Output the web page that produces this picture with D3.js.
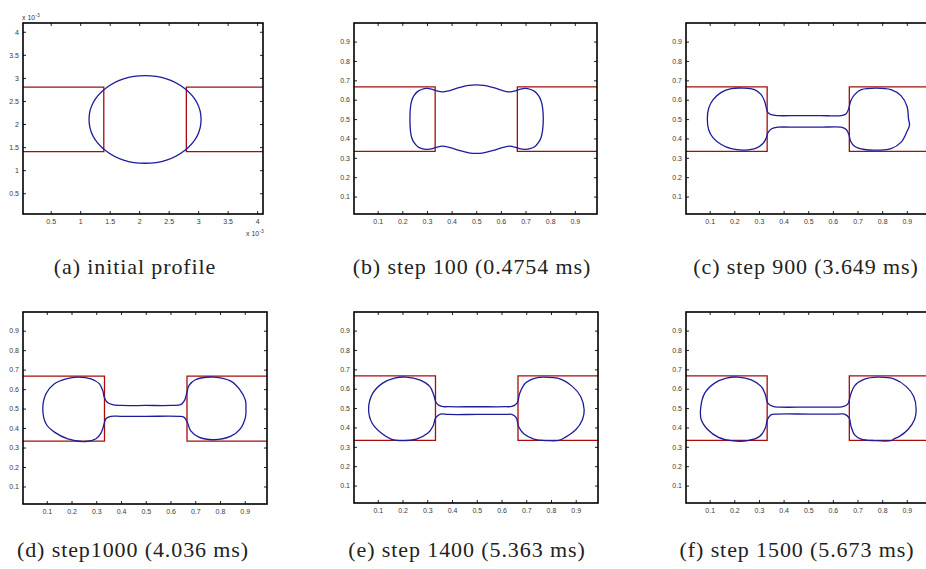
<!DOCTYPE html>
<html><head><meta charset="utf-8">
<script src="https://cdn.jsdelivr.net/npm/d3@7"></script>
<style>body{margin:0;background:#fff}svg{display:block}</style>
</head><body>
<svg id="c" width="926" height="569"></svg>
<script>
// ---------------- data ----------------
const captions = ["(a) initial profile", "(b) step 100 (0.4754 ms)", "(c) step 900 (3.649 ms)",
                  "(d) step1000 (4.036 ms)", "(e) step 1400 (5.363 ms)", "(f) step 1500 (5.673 ms)"];
const unitTicks = [0.1, 0.2, 0.3, 0.4, 0.5, 0.6, 0.7, 0.8, 0.9];
const unitTickLabels = ["0.1","0.2","0.3","0.4","0.5","0.6","0.7","0.8","0.9"];
const initTicks = [0.5, 1, 1.5, 2, 2.5, 3, 3.5, 4];           // x 10^-3
const initTickLabels = ["0.5","1","1.5","2","2.5","3","3.5","4"];
const initialDrop = {cx: 2.1, cy: 2.1, r: 0.95};                // x 10^-3
const channelInitLeft  = [[0, 2.8], [1.4, 2.8], [1.4, 1.4], [0, 1.4]];
const channelInitRight = [[4.2, 2.8], [2.8, 2.8], [2.8, 1.4], [4.2, 1.4]];
const channelLeft  = [[0, 0.6667], [0.3333, 0.6667], [0.3333, 0.3333], [0, 0.3333]];
const channelRight = [[1, 0.6667], [0.6667, 0.6667], [0.6667, 0.3333], [1, 0.3333]];

const profileB = [[0.231,0.50],[0.233,0.56],[0.238,0.595],[0.248,0.622],[0.263,0.643],[0.28,0.654],[0.299,0.658],
 [0.318,0.655],[0.338,0.646],[0.362,0.640],[0.39,0.646],[0.43,0.662],[0.47,0.674],[0.50,0.677],[0.53,0.674],
 [0.57,0.662],[0.61,0.646],[0.636,0.640],[0.66,0.646],[0.68,0.655],[0.699,0.658],[0.718,0.654],[0.737,0.643],
 [0.752,0.622],[0.763,0.595],[0.769,0.56],[0.772,0.50],[0.769,0.44],[0.763,0.405],[0.752,0.378],[0.737,0.357],
 [0.718,0.347],[0.699,0.344],[0.68,0.346],[0.66,0.354],[0.636,0.360],[0.61,0.354],[0.57,0.338],[0.53,0.326],
 [0.50,0.323],[0.47,0.326],[0.43,0.338],[0.39,0.354],[0.362,0.360],[0.338,0.354],[0.318,0.346],[0.299,0.344],
 [0.28,0.347],[0.263,0.357],[0.248,0.378],[0.238,0.405],[0.233,0.44]];

const profileC = [[0.0905,0.50],[0.096,0.556],[0.114,0.600],[0.147,0.638],[0.188,0.657],[0.235,0.660],[0.282,0.652],
 [0.309,0.626],[0.323,0.592],[0.330,0.557],[0.336,0.535],[0.35,0.523],[0.377,0.518],[0.45,0.518],[0.5,0.518],
 [0.55,0.518],[0.634,0.518],[0.654,0.528],[0.665,0.557],[0.672,0.592],[0.688,0.626],[0.715,0.652],[0.776,0.660],
 [0.836,0.652],[0.877,0.620],[0.901,0.565],[0.907,0.50],[0.911,0.469],[0.901,0.437],[0.877,0.381],[0.836,0.347],
 [0.782,0.340],[0.728,0.343],[0.688,0.360],[0.672,0.386],[0.665,0.420],[0.654,0.446],[0.634,0.458],[0.55,0.458],
 [0.5,0.458],[0.45,0.458],[0.377,0.458],[0.35,0.449],[0.336,0.429],[0.330,0.403],[0.316,0.374],[0.289,0.350],
 [0.242,0.340],[0.188,0.347],[0.147,0.369],[0.114,0.403],[0.096,0.445]];

const profileD = [[0.084,0.499],[0.097,0.576],[0.131,0.628],[0.178,0.653],[0.225,0.662],[0.279,0.653],[0.312,0.628],
 [0.326,0.594],[0.332,0.559],[0.343,0.534],[0.366,0.520],[0.40,0.516],[0.5,0.516],[0.60,0.516],[0.641,0.520],
 [0.657,0.542],[0.665,0.576],[0.675,0.619],[0.701,0.648],[0.775,0.662],[0.842,0.642],[0.882,0.594],[0.903,0.542],
 [0.905,0.499],[0.903,0.456],[0.882,0.396],[0.842,0.357],[0.775,0.340],[0.715,0.353],[0.681,0.387],[0.668,0.430],
 [0.654,0.456],[0.634,0.460],[0.5,0.460],[0.40,0.460],[0.359,0.460],[0.339,0.448],[0.330,0.413],[0.319,0.374],
 [0.299,0.345],[0.258,0.331],[0.185,0.345],[0.131,0.379],[0.097,0.422]];

const profileE = [[0.063,0.496],[0.080,0.577],[0.120,0.629],[0.168,0.655],[0.215,0.660],[0.269,0.646],[0.310,0.612],
 [0.326,0.569],[0.337,0.526],[0.358,0.509],[0.385,0.507],[0.5,0.507],[0.615,0.507],[0.642,0.509],[0.663,0.526],
 [0.674,0.577],[0.697,0.629],[0.737,0.655],[0.771,0.660],[0.839,0.650],[0.886,0.612],[0.920,0.560],[0.934,0.491],
 [0.927,0.440],[0.900,0.388],[0.859,0.350],[0.832,0.333],[0.785,0.332],[0.731,0.340],[0.690,0.367],[0.669,0.405],
 [0.660,0.449],[0.642,0.467],[0.615,0.467],[0.5,0.467],[0.385,0.467],[0.353,0.469],[0.334,0.449],[0.323,0.406],
 [0.303,0.371],[0.256,0.340],[0.208,0.332],[0.154,0.340],[0.114,0.371],[0.077,0.423]];

const profileF = [[0.0635,0.500],[0.080,0.577],[0.120,0.629],[0.168,0.655],[0.215,0.660],[0.269,0.646],[0.309,0.612],
 [0.326,0.569],[0.336,0.526],[0.357,0.509],[0.384,0.505],[0.5,0.505],[0.616,0.505],[0.641,0.507],[0.661,0.522],
 [0.672,0.569],[0.688,0.615],[0.728,0.649],[0.782,0.660],[0.85,0.650],[0.897,0.612],[0.928,0.560],[0.938,0.491],
 [0.931,0.440],[0.904,0.388],[0.870,0.354],[0.850,0.342],[0.836,0.332],[0.769,0.332],[0.715,0.340],[0.688,0.362],
 [0.674,0.405],[0.666,0.449],[0.647,0.469],[0.616,0.469],[0.5,0.469],[0.377,0.469],[0.35,0.466],[0.334,0.440],
 [0.326,0.397],[0.303,0.354],[0.255,0.332],[0.188,0.332],[0.134,0.350],[0.093,0.388],[0.066,0.440]];

// ---------------- layout ----------------
const panels = [
  {x0:23,  x1:263, y0:23,  y1:214, xd:[0.03,4.1],   yd:[0.05,4.19],  ticks:initTicks, labels:initTickLabels,
   ch:[channelInitLeft, channelInitRight], prof:null, cap:[135,274]},
  {x0:354, x1:597, y0:23,  y1:214, xd:[0.004,0.99], yd:[0.01,0.996], ticks:unitTicks, labels:unitTickLabels,
   ch:[channelLeft, channelRight], prof:profileB, cap:[472,274]},
  {x0:686, x1:929, y0:23,  y1:214, xd:[0.004,0.99], yd:[0.01,0.996], ticks:unitTicks, labels:unitTickLabels,
   ch:[channelLeft, channelRight], prof:profileC, cap:[806,274]},
  {x0:23,  x1:267, y0:312, y1:504, xd:[0.004,0.99], yd:[0.01,0.996], ticks:unitTicks, labels:unitTickLabels,
   ch:[channelLeft, channelRight], prof:profileD, cap:[133,557]},
  {x0:354, x1:598, y0:312, y1:503, xd:[0.004,0.99], yd:[0.01,0.996], ticks:unitTicks, labels:unitTickLabels,
   ch:[channelLeft, channelRight], prof:profileE, cap:[467,557]},
  {x0:686, x1:929, y0:312, y1:503, xd:[0.004,0.99], yd:[0.01,0.996], ticks:unitTicks, labels:unitTickLabels,
   ch:[channelLeft, channelRight], prof:profileF, cap:[797,557]}
];

const svg = d3.select("#c");
const RED = "#a80c0c", BLUE = "#1c1c9c";

panels.forEach((p, i) => {
  const x = d3.scaleLinear().domain(p.xd).range([p.x0, p.x1]);
  const y = d3.scaleLinear().domain(p.yd).range([p.y1, p.y0]);
  const g = svg.append("g");
  const clipId = "clip" + i;
  svg.append("clipPath").attr("id", clipId).append("rect")
    .attr("x", p.x0).attr("y", p.y0).attr("width", p.x1 - p.x0).attr("height", p.y1 - p.y0);
  const plot = g.append("g").attr("clip-path", `url(#${clipId})`);
  const line = d3.line().x(d => x(d[0])).y(d => y(d[1]));

  p.ch.forEach(c => plot.append("path").attr("d", line(c))
      .attr("fill", "none").attr("stroke", RED).attr("stroke-width", 1.3));

  if (p.prof) {
    plot.append("path")
      .attr("d", d3.line().x(d => x(d[0])).y(d => y(d[1])).curve(d3.curveCatmullRomClosed.alpha(0.5))(p.prof))
      .attr("fill", "none").attr("stroke", BLUE).attr("stroke-width", 1.3);
  } else {
    plot.append("ellipse")
      .attr("cx", x(initialDrop.cx)).attr("cy", y(initialDrop.cy))
      .attr("rx", x(initialDrop.r) - x(0)).attr("ry", y(0) - y(initialDrop.r))
      .attr("fill", "none").attr("stroke", BLUE).attr("stroke-width", 1.3);
  }

  const fmt = (d) => p.labels[p.ticks.indexOf(d)];
  const styleAxis = (a) => {
    a.select(".domain").remove();
    a.selectAll("line").attr("stroke", "#222").attr("stroke-width", 1);
    a.selectAll("text").attr("font-family", "'Liberation Sans', Arial, sans-serif")
      .attr("font-size", 7).attr("fill", "#3a3a3a");
  };
  g.append("g").attr("transform", `translate(0,${p.y1})`)
    .call(d3.axisBottom(x).tickValues(p.ticks).tickFormat(fmt).tickSize(-3).tickPadding(5)).call(styleAxis);
  g.append("g").attr("transform", `translate(${p.x0},0)`)
    .call(d3.axisLeft(y).tickValues(p.ticks).tickFormat(fmt).tickSize(-3).tickPadding(4)).call(styleAxis);
  g.append("g").attr("transform", `translate(0,${p.y0})`)
    .call(d3.axisTop(x).tickValues(p.ticks).tickFormat("").tickSize(-3)).call(styleAxis);
  g.append("g").attr("transform", `translate(${p.x1},0)`)
    .call(d3.axisRight(y).tickValues(p.ticks).tickFormat("").tickSize(-3)).call(styleAxis);

  g.append("rect").attr("x", p.x0).attr("y", p.y0)
    .attr("width", p.x1 - p.x0).attr("height", p.y1 - p.y0)
    .attr("fill", "none").attr("stroke", "#000").attr("stroke-width", 1.6);

  if (!p.prof) {
    const expo = (tx, ty) => {
      const t = g.append("text").attr("x", tx).attr("y", ty)
        .attr("font-family", "'Liberation Sans', Arial, sans-serif").attr("font-size", 7).attr("fill", "#3a3a3a");
      t.append("tspan").text("x 10");
      t.append("tspan").attr("dy", -3).attr("font-size", 5).text("-3");
    };
    expo(p.x0 - 1, p.y0 - 3);
    expo(p.x1 - 17, p.y1 + 22);
  }

  svg.append("text").attr("x", p.cap[0]).attr("y", p.cap[1])
    .attr("text-anchor", "middle")
    .attr("font-family", "'Liberation Serif', 'Times New Roman', serif")
    .attr("font-size", 22).attr("letter-spacing", 0.9).attr("fill", "#222")
    .text(captions[i]);
});
</script>
</body></html>
